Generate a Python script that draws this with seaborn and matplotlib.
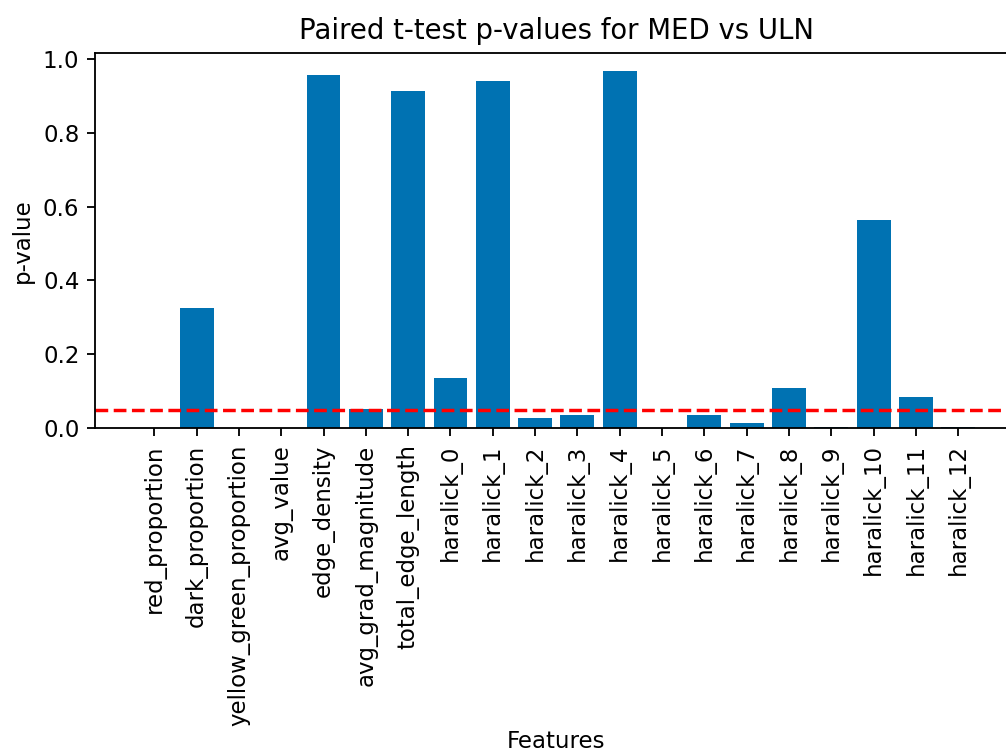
import pandas as pd
import matplotlib
matplotlib.use("Agg")
import matplotlib.pyplot as plt
import seaborn as sns

features = ["red_proportion", "dark_proportion", "yellow_green_proportion",
            "avg_value", "edge_density", "avg_grad_magnitude",
            "total_edge_length"] + [f"haralick_{i}" for i in range(13)]
p_values = [0.0, 0.326, 0.0, 0.0, 0.955, 0.053, 0.914,
            0.135, 0.941, 0.027, 0.036, 0.968, 0.0, 0.036,
            0.0135, 0.108, 0.004, 0.563, 0.085, 0.004]
alpha = 0.05

df = pd.DataFrame({"feature": features, "p_value": p_values})

sns.set_palette("colorblind")
plt.rcParams["font.family"] = ["DejaVu Sans"]

DPI = 165
fig = plt.figure(figsize=(1006 / DPI, 755 / DPI), dpi=DPI)
ax = fig.add_axes([0.0949, 0.4327, 0.9161, 0.4975])

sns.barplot(data=df, x="feature", y="p_value", color="#0072B2",
            saturation=1, width=0.8, ax=ax)
ax.axhline(alpha, color="red", linestyle="--")

# the original plot used matplotlib's default margins, not seaborn's
ax.set_xlim(-1.39, 20.39)
ax.set_ylim(0, 1.05 * max(p_values))
ax.set_xticks(range(len(features)))
ax.set_xticklabels(features, rotation=90)
ax.set_title("Paired t-test p-values for MED vs ULN")
ax.set_xlabel("Features", labelpad=2)
ax.set_ylabel("p-value")

fig.savefig("out.png", dpi=DPI)
